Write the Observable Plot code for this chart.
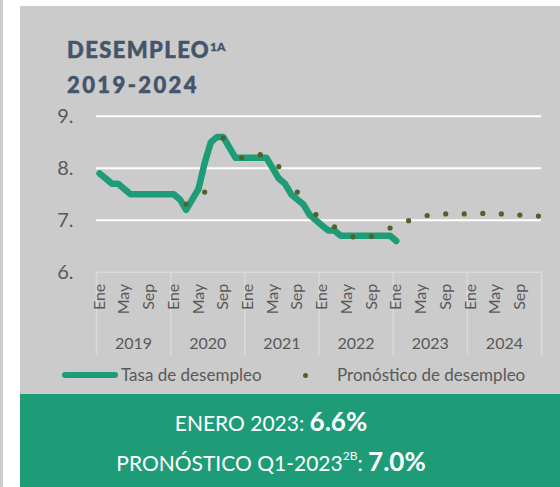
<!DOCTYPE html>
<html><head><meta charset="utf-8">
<script src="https://cdn.jsdelivr.net/npm/d3@7"></script>
<script src="https://cdn.jsdelivr.net/npm/@observablehq/plot@0.6"></script>
<style>
body{margin:0;background:#fff;width:560px;height:487px;overflow:hidden;position:relative;font-family:Lato,sans-serif}
#strip{position:absolute;left:0;top:0;width:3px;height:487px;background:#cbcbcb}
#panel{position:absolute;left:20px;top:6px;width:540px;height:388px;background:#cbcbcb}
.t{position:absolute;left:67px;color:#44546a;font-family:Lato,sans-serif;font-weight:900;font-size:22px;line-height:22px;letter-spacing:1.4px;white-space:nowrap;-webkit-text-stroke:0.5px #44546a}
.t sup{font-size:12px;line-height:0;vertical-align:0;position:relative;top:-7px;letter-spacing:0;-webkit-text-stroke:0.3px #44546a}
#chart{position:absolute;left:20px;top:100px}
#legend{position:absolute;left:0;top:365px;width:560px;height:20px;font-size:17px;color:#595959}
.li{position:absolute;top:0;height:20px;line-height:20px;white-space:nowrap}
#box{position:absolute;left:20px;top:394px;width:540px;height:93px;background:#1e9c78;color:#fff}
.bl{position:absolute;left:0;width:502px;text-align:center;white-space:nowrap;font-size:21px;line-height:26px}
.bl b{font-size:26px;font-weight:700}
.bl sup{font-size:12px;line-height:0;position:relative;top:-3px;vertical-align:super}
</style></head>
<body>
<div id="strip"></div>
<div id="panel"></div>
<div class="t" style="top:39px">DESEMPLEO<sup>1A</sup></div>
<div class="t" style="top:74px;letter-spacing:2.4px">2019-2024</div>
<div id="chart"></div>
<div id="legend">
  <div class="li" style="left:62px;width:56px;"><div style="position:absolute;left:0;top:7px;width:56px;height:6px;border-radius:3px;background:#1e9c78"></div></div>
  <div class="li" style="left:121px">Tasa de desempleo</div>
  <div class="li" style="left:303px;width:6px"><div style="position:absolute;left:0;top:7.5px;width:5px;height:5px;border-radius:50%;background:#4f6228"></div></div>
  <div class="li" style="left:337px">Pronóstico de desempleo</div>
</div>
<div id="box">
  <div class="bl" style="top:14px">ENERO 2023: <b>6.6%</b></div>
  <div class="bl" style="top:54px">PRONÓSTICO Q1-2023<sup>2B</sup>: <b>7.0%</b></div>
</div>
<script>
// Categories
const years = [2019, 2020, 2021, 2022, 2023, 2024];
const monthTickLabels = ["Ene", "May", "Sep"];
const monthTickOffsets = [0, 4, 8];
const yTicks = [6, 7, 8, 9];

// Tasa de desempleo, monthly from Ene 2019 to Ene 2023
const tasaStart = "2019-01";
const tasa = [
  7.9, 7.8, 7.7, 7.7, 7.6, 7.5, 7.5, 7.5, 7.5, 7.5, 7.5, 7.5,
  7.5, 7.4, 7.2, 7.4, 7.6, 8.1, 8.5, 8.6, 8.6, 8.4, 8.2, 8.2,
  8.2, 8.2, 8.2, 8.2, 8.0, 7.8, 7.7, 7.5, 7.4, 7.3, 7.1, 7.0,
  6.9, 6.8, 6.8, 6.7, 6.7, 6.7, 6.7, 6.7, 6.7, 6.7, 6.7, 6.7,
  6.6
];

// Pronóstico de desempleo (quarterly)
const pronosticoPeriodos = [
  "2020-03","2020-06","2020-09","2020-12",
  "2021-03","2021-06","2021-09","2021-12",
  "2022-03","2022-06","2022-09","2022-12",
  "2023-03","2023-06","2023-09","2023-12",
  "2024-03","2024-06","2024-09","2024-12"
];
const pronostico = [
  7.31, 7.54, 8.58, 8.20,
  8.26, 8.03, 7.54, 7.11,
  6.87, 6.68, 6.69, 6.85,
  6.99, 7.09, 7.12, 7.12,
  7.13, 7.12, 7.10, 7.08
];

const y0 = years[0];
const idx = s => { const [yy, mm] = s.split("-").map(Number); return (yy - y0) * 12 + (mm - 1); };
const start = idx(tasaStart);
const lineData = tasa.map((v, i) => ({m: start + i, v}));
const dotData = pronostico.map((v, i) => ({m: idx(pronosticoPeriodos[i]), v}));
const monthTicks = years.flatMap((yr, yi) => monthTickOffsets.map((o, k) => ({m: yi * 12 + o, label: monthTickLabels[k]})));
const yearData = years.map((yr, yi) => ({m: yi * 12 + 5.5, label: String(yr)}));
const bounds = [...years.map((yr, yi) => yi * 12 - 0.5), years.length * 12 - 0.5];

const gray = "#595959";
const sep = "#dadada";
const chart = Plot.plot({
  width: 540, height: 280,
  marginLeft: 76, marginRight: 19, marginTop: 15.7, marginBottom: 108.3,
  x: {domain: [-0.5, years.length * 12 - 0.5], axis: null},
  y: {domain: [6, 9], axis: null},
  style: {background: "transparent", fontFamily: "Lato, sans-serif", overflow: "visible"},
  marks: [
    Plot.ruleY(yTicks.filter(d => d > 6), {y: d => d, stroke: "#ffffff", strokeWidth: 2}),
    Plot.ruleY([6], {y: d => d, stroke: sep, strokeWidth: 1.5}),
    Plot.ruleX(bounds, {x: d => d, y1: 6, y2: 4.4, stroke: sep, strokeWidth: 1.5}),
    Plot.text(yTicks, {y: d => d, text: d => d + ".", frameAnchor: "left", dx: -23, textAnchor: "end", lineAnchor: "middle", fontSize: 20, fill: gray}),
    Plot.text(monthTicks, {x: "m", text: "label", frameAnchor: "bottom", dy: 11.5, rotate: -90, textAnchor: "end", lineAnchor: "middle", fontSize: 16, fill: gray}),
    Plot.text(yearData, {x: "m", text: "label", frameAnchor: "bottom", dy: 71.5, lineAnchor: "middle", fontSize: 16, fill: gray}),
    Plot.line(lineData, {x: "m", y: "v", stroke: "#1e9c78", strokeWidth: 6.5, strokeLinecap: "round", strokeLinejoin: "round"}),
    Plot.dot(dotData, {x: "m", y: "v", r: 2.6, fill: "#4f6228", stroke: "none"})
  ]
});
document.getElementById("chart").appendChild(chart);
</script>
</body></html>
